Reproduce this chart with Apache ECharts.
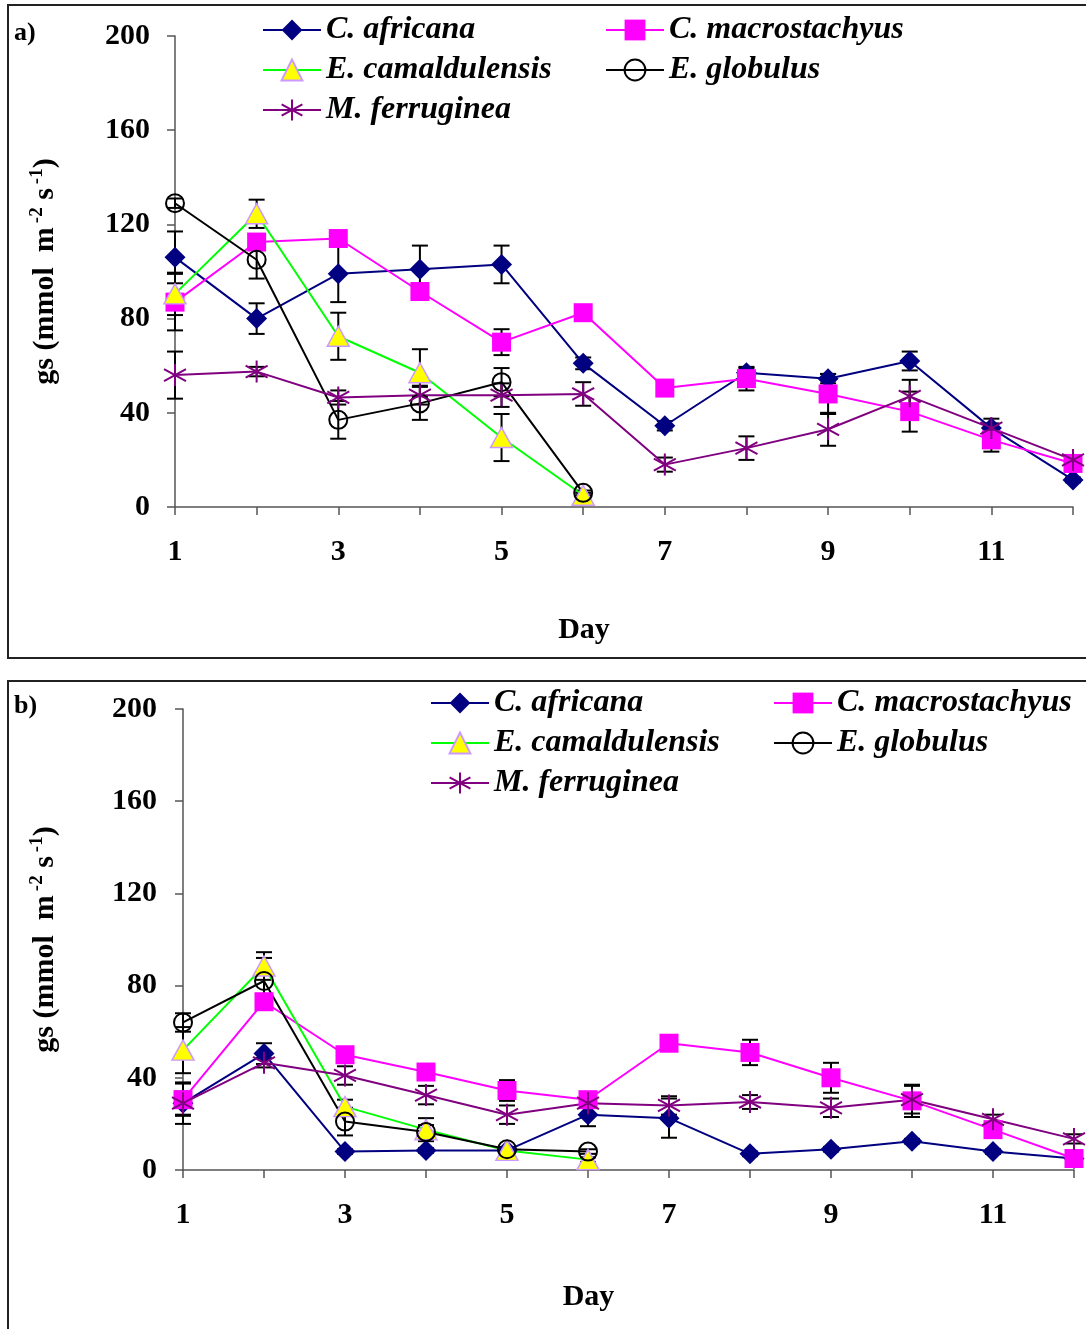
<!DOCTYPE html>
<html>
<head>
<meta charset="utf-8">
<title>Stomatal conductance by day</title>
<script src="https://cdn.jsdelivr.net/npm/echarts@6/dist/echarts.min.js"></script>
<style>
  html, body { margin: 0; padding: 0; background: #fff; }
  #chart { width: 1086px; height: 1329px; }
</style>
</head>
<body>
<div id="chart"></div>
<script>
// Days of measurement (x axis)
const days = [1, 2, 3, 4, 5, 6, 7, 8, 9, 10, 11, 12];
const yTicks = [0, 40, 80, 120, 160, 200];
const speciesNames = ['C. africana', 'C. macrostachyus', 'E. camaldulensis', 'E. globulus', 'M. ferruginea'];

// Panel a) gs values (mmol m-2 s-1) and standard errors
const africanaA = [106, 80, 99, 101, 103, 61, 34.5, 57, 54.5, 62, 33.5, 11.5];
const africanaAErr = [11, 6.5, 12, 10, 8, 2.5, 2, 2, 2, 4, 2, 1];
const macrostachyusA = [87, 112.5, 114, 91.5, 70, 82.5, 50.5, 54.5, 48, 40.5, 28.5, 18.5];
const macrostachyusAErr = [12, 2, 2, 3, 5.5, 2, 2, 5, 8.5, 8.5, 5, 2];
const camaldulensisA = [90.5, 124.5, 72.5, 57, 29.5, 5];
const camaldulensisAErr = [9, 6, 10, 10, 10, 1];
const globulusA = [129, 105, 37, 44, 53, 6];
const globulusAErr = [2, 8, 8, 7, 6, 1];
const ferrugineaA = [56, 57.5, 46.5, 47.5, 47.5, 48, 18, 25, 33, 47, 33.5, 20];
const ferrugineaAErr = [10, 2, 3, 4, 5, 5, 3, 5, 7, 7, 4, 2];

// Panel b) gs values (mmol m-2 s-1) and standard errors
const africanaB = [29, 50.5, 8, 8.5, 8.5, 24, 22.5, 7, 9, 12.5, 8, 5];
const africanaBErr = [5, 4.5, 1, 1, 1, 5, 8.5, 1, 1, 1, 1, 1];
const macrostachyusB = [30.5, 73, 50, 42.5, 34.5, 30.5, 55, 51, 40, 30, 17.5, 5];
const macrostachyusBErr = [7, 2, 2, 2, 4.5, 2, 2, 5.5, 6.5, 7, 2, 1];
const camaldulensisB = [52, 88.5, 27.5, 17.5, 8.5, 4.5];
const camaldulensisBErr = [10, 6, 3, 5, 1, 1];
const globulusB = [64, 82, 21, 16.5, 9, 8];
const globulusBErr = [4, 10, 6, 3, 1, 1];
const ferrugineaB = [29, 46.5, 41, 32.5, 24, 29, 28, 29.5, 27, 30.5, 22, 13.5];
const ferrugineaBErr = [9, 2, 4, 4, 4, 2, 4, 3, 4, 6, 2, 2];

const FONT = '"Liberation Serif", "Times New Roman", serif';

// Marker / line styling per species
const styles = {
  'C. africana': {
    symbol: 'diamond', symbolSize: 21,
    itemStyle: { color: '#000080' },
    lineStyle: { color: '#000080', width: 2 }
  },
  'C. macrostachyus': {
    symbol: 'rect', symbolSize: 19,
    itemStyle: { color: '#FF00FF' },
    lineStyle: { color: '#FF00FF', width: 2 }
  },
  'E. camaldulensis': {
    symbol: 'triangle', symbolSize: [22, 20],
    itemStyle: { color: '#FFFF00', borderColor: '#CC99FF', borderWidth: 1.5 },
    lineStyle: { color: '#00FF00', width: 2 }
  },
  'E. globulus': {
    symbol: 'circle', symbolSize: 18,
    itemStyle: { color: 'rgba(255,255,255,0)', borderColor: '#000', borderWidth: 2 },
    lineStyle: { color: '#000', width: 2 }
  },
  'M. ferruginea': {
    symbol: 'path://M10,0 L10,22 M0,5 L20,17 M0,17 L20,5', symbolSize: 22,
    itemStyle: { color: '#800080', borderColor: '#800080', borderWidth: 2 },
    lineStyle: { color: '#800080', width: 2 }
  }
};

function lineSeries(name, values, gridIdx) {
  const s = styles[name];
  return {
    type: 'line', name: name, data: values,
    xAxisIndex: gridIdx, yAxisIndex: gridIdx,
    showSymbol: true, showAllSymbol: true, animation: false,
    emphasis: { disabled: true }, z: 3,
    symbol: s.symbol, symbolSize: s.symbolSize,
    itemStyle: s.itemStyle, lineStyle: s.lineStyle
  };
}

// Error bar rows: [dayIndex, mean, error]
function errRows(valueLists, errLists) {
  const rows = [];
  valueLists.forEach((vals, k) => {
    vals.forEach((v, i) => { rows.push([i, v, errLists[k][i]]); });
  });
  return rows;
}

function renderErrorBar(params, api) {
  const x = api.value(0), v = api.value(1), e = api.value(2);
  const hi = api.coord([x, v + e]);
  const lo = api.coord([x, v - e]);
  const hw = 8;
  const st = { stroke: '#000', lineWidth: 2 };
  return {
    type: 'group',
    children: [
      { type: 'line', shape: { x1: hi[0], y1: hi[1], x2: lo[0], y2: lo[1] }, style: st },
      { type: 'line', shape: { x1: hi[0] - hw, y1: hi[1], x2: hi[0] + hw, y2: hi[1] }, style: st },
      { type: 'line', shape: { x1: lo[0] - hw, y1: lo[1], x2: lo[0] + hw, y2: lo[1] }, style: st }
    ]
  };
}

function errorSeries(rows, gridIdx) {
  return {
    type: 'custom', name: 'se', data: rows,
    xAxisIndex: gridIdx, yAxisIndex: gridIdx,
    renderItem: renderErrorBar, z: 2, silent: true, animation: false
  };
}

const axisColor = '#555';
const tickFont = { fontFamily: FONT, fontWeight: 'bold', fontSize: 30, color: '#000' };

function xAxisFor(gridIdx, nameGap) {
  return {
    type: 'category', gridIndex: gridIdx, data: days, boundaryGap: false,
    axisLine: { lineStyle: { color: axisColor, width: 1.5 } },
    axisTick: { show: true, length: 8, interval: 0, lineStyle: { color: axisColor, width: 1.5 } },
    axisLabel: Object.assign({ interval: 1, margin: 30 }, tickFont),
    splitLine: { show: false },
    name: 'Day', nameLocation: 'middle', nameGap: nameGap,
    nameTextStyle: Object.assign({ padding: [0, 80, 0, 0] }, tickFont)
  };
}

const yName = '{n|gs (mmol  m}{s|-2}{n| s}{s|-1}{n|)}';

function yAxisFor(gridIdx, nameGap, margin) {
  return {
    type: 'value', gridIndex: gridIdx, min: yTicks[0], max: yTicks[yTicks.length - 1], interval: 40,
    axisLine: { show: true, lineStyle: { color: axisColor, width: 1.5 } },
    axisTick: { show: true, length: 8, lineStyle: { color: axisColor, width: 1.5 } },
    axisLabel: Object.assign({ margin: margin }, tickFont),
    splitLine: { show: false },
    name: yName, nameLocation: 'middle', nameGap: nameGap, nameRotate: 90,
    nameTextStyle: {
      rich: {
        n: { fontFamily: FONT, fontWeight: 'bold', fontSize: 30, color: '#000', lineHeight: 36 },
        s: { fontFamily: FONT, fontWeight: 'bold', fontSize: 19, color: '#000', padding: [0, 0, 15, 4], lineHeight: 36 }
      }
    }
  };
}

function legendItem(name, left, top) {
  return {
    data: [name], left: left, top: top, padding: 0,
    itemWidth: 58, itemHeight: 26, selectedMode: false,
    textStyle: { fontFamily: FONT, fontStyle: 'italic', fontWeight: 'bold', fontSize: 32, color: '#000' }
  };
}

const series = [];
const valsA = [africanaA, macrostachyusA, camaldulensisA, globulusA, ferrugineaA];
const errsA = [africanaAErr, macrostachyusAErr, camaldulensisAErr, globulusAErr, ferrugineaAErr];
const valsB = [africanaB, macrostachyusB, camaldulensisB, globulusB, ferrugineaB];
const errsB = [africanaBErr, macrostachyusBErr, camaldulensisBErr, globulusBErr, ferrugineaBErr];

series.push(errorSeries(errRows(valsA, errsA), 0));
series.push(errorSeries(errRows(valsB, errsB), 1));
speciesNames.forEach((n, k) => series.push(lineSeries(n, valsA[k], 0)));
speciesNames.forEach((n, k) => series.push(lineSeries(n, valsB[k], 1)));

const option = {
  backgroundColor: '#fff',
  animation: false,
  grid: [
    { left: 175, right: 13, top: 36, height: 471 },
    { left: 183, right: 12, top: 709, height: 461 }
  ],
  xAxis: [xAxisFor(0, 108), xAxisFor(1, 112)],
  yAxis: [yAxisFor(0, 112, 25), yAxisFor(1, 120, 26)],
  legend: [
    legendItem('C. africana', 262, 14),
    legendItem('C. macrostachyus', 605, 14),
    legendItem('E. camaldulensis', 262, 54),
    legendItem('E. globulus', 605, 54),
    legendItem('M. ferruginea', 262, 94),
    legendItem('C. africana', 430, 687),
    legendItem('C. macrostachyus', 773, 687),
    legendItem('E. camaldulensis', 430, 727),
    legendItem('E. globulus', 773, 727),
    legendItem('M. ferruginea', 430, 767)
  ],
  graphic: [
    { type: 'rect', shape: { x: 8, y: 5, width: 1100, height: 653 },
      style: { fill: 'none', stroke: '#222', lineWidth: 2 }, z: 0 },
    { type: 'rect', shape: { x: 8, y: 681, width: 1100, height: 700 },
      style: { fill: 'none', stroke: '#222', lineWidth: 2 }, z: 0 },
    { type: 'text', left: 14, top: 20,
      style: { text: 'a)', fontFamily: FONT, fontWeight: 'bold', fontSize: 26, fill: '#000' } },
    { type: 'text', left: 14, top: 693,
      style: { text: 'b)', fontFamily: FONT, fontWeight: 'bold', fontSize: 26, fill: '#000' } }
  ],
  series: series
};

const chart = echarts.init(document.getElementById('chart'), null, { renderer: 'canvas' });
chart.setOption(option);
</script>
</body>
</html>
